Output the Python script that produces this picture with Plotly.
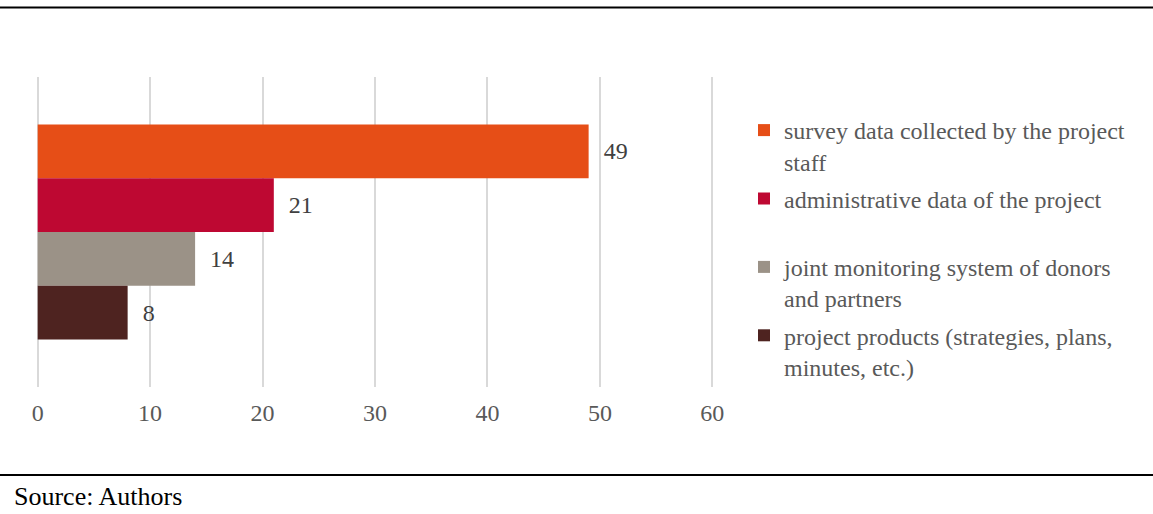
import plotly.graph_objects as go

categories = ["survey data collected by the project<br>staff",
              "administrative data of the project<br> ",
              "joint monitoring system of donors<br>and partners",
              "project products (strategies, plans,<br>minutes, etc.)"]
values = [49, 21, 14, 8]
colors = ["#E64E17", "#BE0832", "#9B9287", "#4E2320"]
tick_vals = [0, 10, 20, 30, 40, 50, 60]
source_text = "Source: Authors"

W, H = 1153, 514
ml, mr, mt, mb = 36, 439, 77, 127
pw, ph = W - ml - mr, H - mt - mb
FONT = "Liberation Serif"

fig = go.Figure()
for i, (name, v, c) in enumerate(zip(categories, values, colors)):
    fig.add_trace(go.Bar(
        x=[v], y=["g"], orientation="h", name=name, legendgroup=f"g{i}",
        marker=dict(color=c, line=dict(width=0)),
        text=[v], texttemplate="  %{x}", textposition="outside",
        textfont=dict(family=FONT, size=24, color="#404040"),
        cliponaxis=False, hoverinfo="skip",
    ))

fig.update_layout(
    width=W, height=H,
    margin=dict(l=ml, r=mr, t=mt, b=mb),
    paper_bgcolor="white", plot_bgcolor="white",
    barmode="group", bargap=0.306, bargroupgap=0,
    font=dict(family=FONT, size=24, color="#595959"),
    xaxis=dict(range=[-0.15, 60.15], tickvals=tick_vals, showgrid=True,
               gridcolor="#D9D9D9", gridwidth=1.5, zeroline=False,
               showline=False, ticks="outside", ticklen=4, tickcolor="rgba(0,0,0,0)",
               tickfont=dict(size=24, color="#595959")),
    yaxis=dict(showticklabels=False, showgrid=False, zeroline=False,
               autorange="reversed"),
    legend=dict(x=(744 - ml) / pw, xanchor="left", y=(387 - 108) / ph, yanchor="top",
                valign="top", traceorder="grouped", tracegroupgap=3,
                font=dict(size=24, color="#595959"), itemclick=False),
    showlegend=True,
)

x0 = -ml / pw
x1 = (W - ml) / pw
fig.add_shape(type="line", xref="paper", yref="paper", x0=x0, x1=x1,
              y0=(H - mb - 7.5) / ph, y1=(H - mb - 7.5) / ph,
              line=dict(color="black", width=2))
fig.add_shape(type="line", xref="paper", yref="paper", x0=x0, x1=x1,
              y0=(H - mb - 475) / ph, y1=(H - mb - 475) / ph,
              line=dict(color="black", width=2))
fig.add_annotation(text=source_text, xref="paper", yref="paper",
                   x=(12 - ml) / pw, y=(H - mb - 496) / ph, xanchor="left", yanchor="middle",
                   showarrow=False, font=dict(family=FONT, size=26, color="black"))

fig.write_html("out.html", config={"displayModeBar": False},
               post_script="document.body.style.margin='0';document.body.style.overflow='hidden';")
